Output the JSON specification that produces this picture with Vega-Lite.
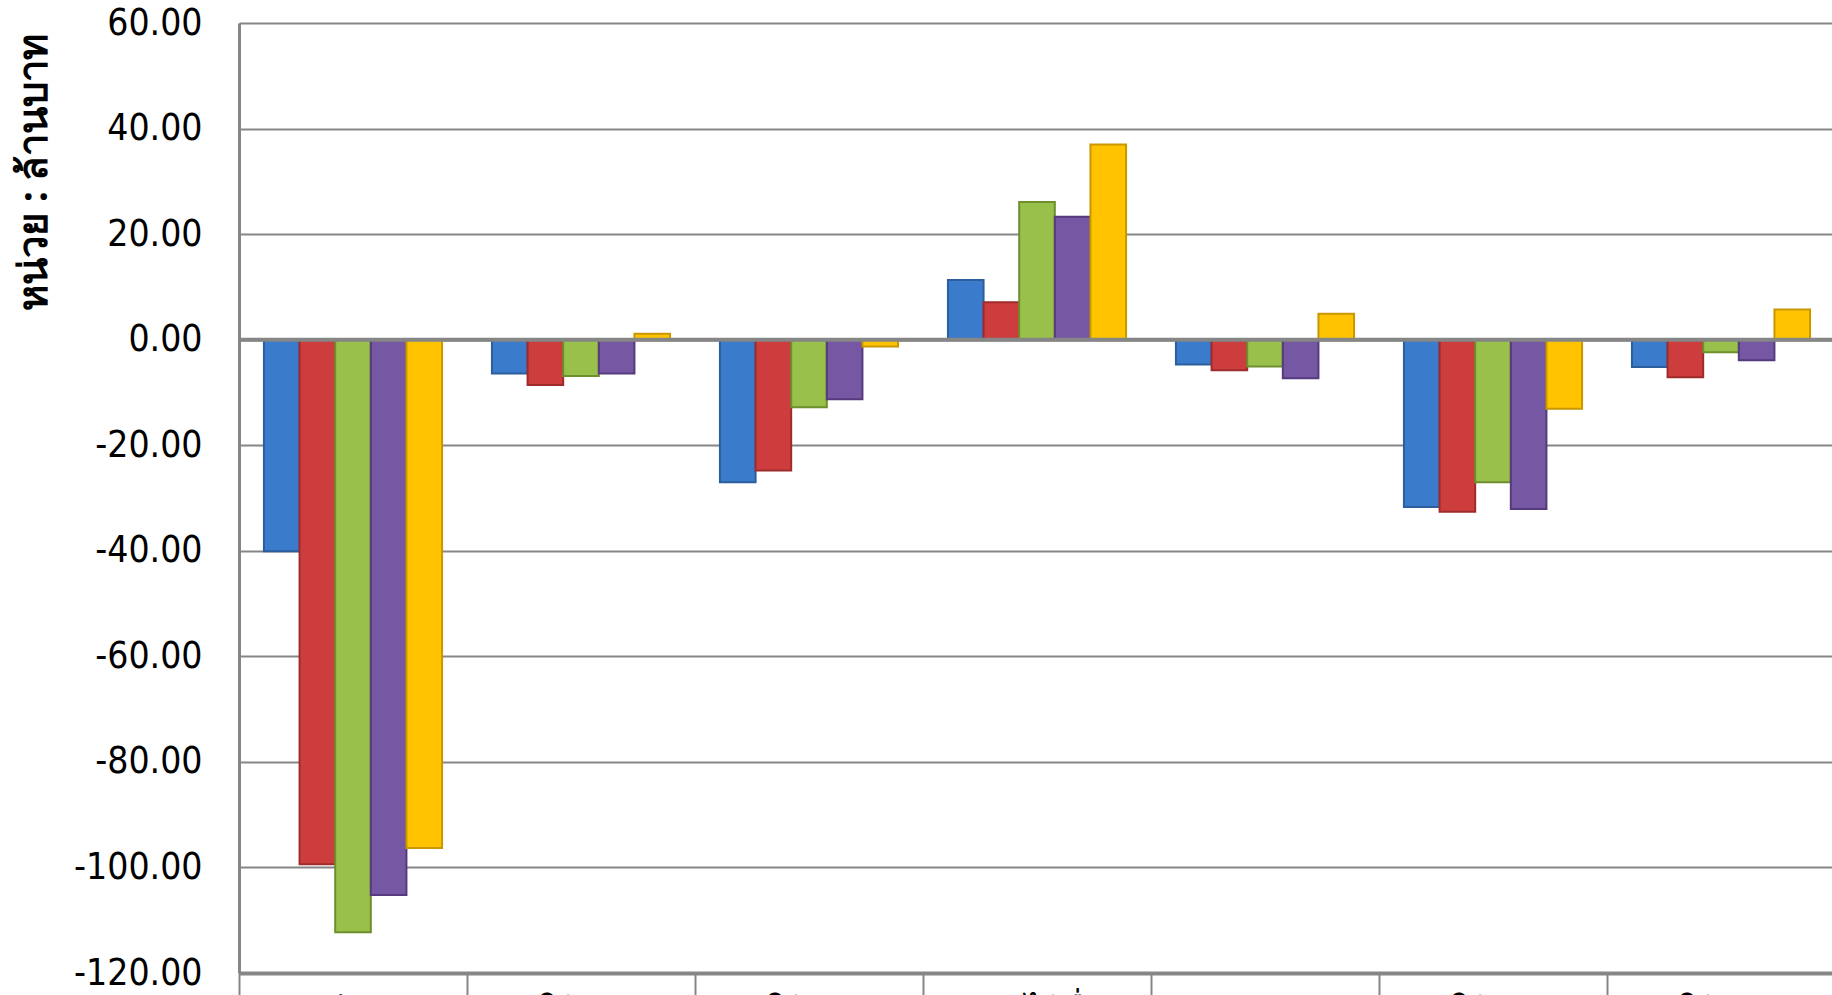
{
  "$schema": "https://vega.github.io/schema/vega-lite/v6.json",
  "autosize": "none",
  "padding": {"left": 239, "top": 23, "right": 0, "bottom": 22},
  "width": 1596,
  "height": 950,
  "background": "white",
  "config": {"view": {"stroke": null}, "font": "DejaVu Sans"},
  "data": {
    "values": [
      {"cat": "ภาษีอากร", "series": "ปี 2551", "value": -40.1},
      {"cat": "ภาษีอากร", "series": "ปี 2552", "value": -99.4},
      {"cat": "ภาษีอากร", "series": "ปี 2553", "value": -112.3},
      {"cat": "ภาษีอากร", "series": "ปี 2554", "value": -105.2},
      {"cat": "ภาษีอากร", "series": "ปี 2555", "value": -96.3},
      {"cat": "ค่าใช้จ่ายโดยตรง", "series": "ปี 2551", "value": -6.4},
      {"cat": "ค่าใช้จ่ายโดยตรง", "series": "ปี 2552", "value": -8.6},
      {"cat": "ค่าใช้จ่ายโดยตรง", "series": "ปี 2553", "value": -6.9},
      {"cat": "ค่าใช้จ่ายโดยตรง", "series": "ปี 2554", "value": -6.4},
      {"cat": "ค่าใช้จ่ายโดยตรง", "series": "ปี 2555", "value": 1.1},
      {"cat": "ค่าใช้จ่ายบุคลากร", "series": "ปี 2551", "value": -27.0},
      {"cat": "ค่าใช้จ่ายบุคลากร", "series": "ปี 2552", "value": -24.8},
      {"cat": "ค่าใช้จ่ายบุคลากร", "series": "ปี 2553", "value": -12.8},
      {"cat": "ค่าใช้จ่ายบุคลากร", "series": "ปี 2554", "value": -11.3},
      {"cat": "ค่าใช้จ่ายบุคลากร", "series": "ปี 2555", "value": -1.3},
      {"cat": "รายได้อื่น", "series": "ปี 2551", "value": 11.3},
      {"cat": "รายได้อื่น", "series": "ปี 2552", "value": 7.1},
      {"cat": "รายได้อื่น", "series": "ปี 2553", "value": 26.1},
      {"cat": "รายได้อื่น", "series": "ปี 2554", "value": 23.3},
      {"cat": "รายได้อื่น", "series": "ปี 2555", "value": 37.0},
      {"cat": "เงินอุดหนุน", "series": "ปี 2551", "value": -4.7},
      {"cat": "เงินอุดหนุน", "series": "ปี 2552", "value": -5.8},
      {"cat": "เงินอุดหนุน", "series": "ปี 2553", "value": -5.1},
      {"cat": "เงินอุดหนุน", "series": "ปี 2554", "value": -7.3},
      {"cat": "เงินอุดหนุน", "series": "ปี 2555", "value": 4.9},
      {"cat": "ค่าใช้จ่ายลงทุน", "series": "ปี 2551", "value": -31.7},
      {"cat": "ค่าใช้จ่ายลงทุน", "series": "ปี 2552", "value": -32.6},
      {"cat": "ค่าใช้จ่ายลงทุน", "series": "ปี 2553", "value": -27.0},
      {"cat": "ค่าใช้จ่ายลงทุน", "series": "ปี 2554", "value": -32.1},
      {"cat": "ค่าใช้จ่ายลงทุน", "series": "ปี 2555", "value": -13.1},
      {"cat": "ค่าใช้จ่ายอื่นๆ", "series": "ปี 2551", "value": -5.2},
      {"cat": "ค่าใช้จ่ายอื่นๆ", "series": "ปี 2552", "value": -7.1},
      {"cat": "ค่าใช้จ่ายอื่นๆ", "series": "ปี 2553", "value": -2.4},
      {"cat": "ค่าใช้จ่ายอื่นๆ", "series": "ปี 2554", "value": -3.9},
      {"cat": "ค่าใช้จ่ายอื่นๆ", "series": "ปี 2555", "value": 5.7}
    ]
  },
  "layer": [
    {
      "mark": {"type": "bar", "strokeWidth": 2},
      "encoding": {
        "x": {
          "field": "cat", "type": "nominal", "sort": null,
          "scale": {"paddingInner": 0, "paddingOuter": 0},
          "axis": {
            "title": null, "orient": "bottom", "labelAngle": 0,
            "bandPosition": 0, "tickSize": 24, "tickWidth": 2, "tickColor": "#868686",
            "domainColor": "#868686", "domainWidth": 4,
            "labelFontSize": 34, "labelColor": "#000000", "labelPadding": -2, "labelBaseline": "top",
            "labelFont": "Noto Sans"
          }
        },
        "xOffset": {"field": "series", "type": "nominal", "sort": null, "scale": {"paddingInner": 0, "paddingOuter": 0.7}},
        "y": {
          "field": "value", "type": "quantitative",
          "scale": {"domain": [-120, 60], "nice": false, "zero": false},
          "axis": {
            "values": [-120, -100, -80, -60, -40, -20, 0, 20, 40, 60],
            "labelExpr": "(datum.value < 0 ? '-' : '') + format(abs(datum.value), '.2f')",
            "ticks": false, "labelPadding": 37,
            "labelFontSize": 37, "labelColor": "#000000", "labelFont": "DejaVu Sans Condensed",
            "domainColor": "#868686", "domainWidth": 3,
            "grid": true, "gridColor": "#868686", "gridWidth": 2,
            "title": "หน่วย : ล้านบาท", "titleFontSize": 40, "titleFontWeight": "bold",
            "titleFont": "Noto Sans",
            "titleColor": "#000000", "titleAlign": "right", "titleAngle": -90,
            "titleX": -193, "titleY": 10, "titleBaseline": "alphabetic"
          }
        },
        "color": {
          "field": "series", "type": "nominal", "sort": null, "legend": null,
          "scale": {"range": ["#3A7BCB", "#CD3D3D", "#98C04A", "#7657A3", "#FFC300"]}
        },
        "stroke": {
          "field": "series", "type": "nominal", "sort": null, "legend": null,
          "scale": {"range": ["#2C5E9E", "#9E2C2C", "#6E8F2E", "#553B7D", "#C99700"]}
        }
      }
    },
    {
      "data": {"values": [{"v": 0}]},
      "mark": {"type": "rule", "color": "#868686", "strokeWidth": 4},
      "encoding": {"y": {"field": "v", "type": "quantitative"}}
    }
  ]
}
